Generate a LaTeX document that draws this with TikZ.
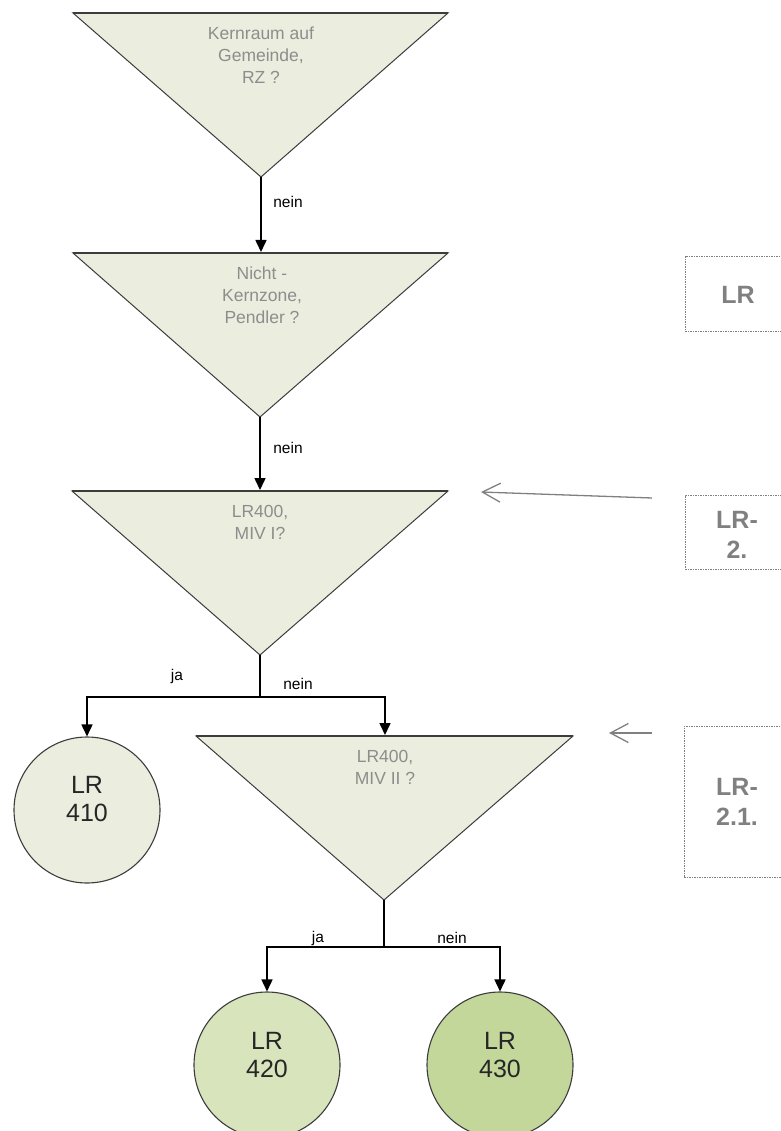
\documentclass[tikz,border=0pt]{standalone}
\usepackage{fontspec}
\setmainfont{Liberation Sans}
\usetikzlibrary{arrows.meta}
\definecolor{trifill}{RGB}{235,238,222}
\definecolor{ctwo}{RGB}{216,228,188}
\definecolor{cthree}{RGB}{196,215,155}
\definecolor{edgec}{RGB}{60,60,60}
\definecolor{tgrey}{RGB}{128,128,128}
\begin{document}
\begin{tikzpicture}[x=1pt,y=-1pt,
  tri/.style={fill=trifill,draw=edgec,line width=1pt,line join=miter},
  tritop/.style={draw=edgec,line width=2.2pt},
  qtext/.style={text=tgrey!90,font=\fontsize{17.5}{22}\selectfont,align=center,inner sep=0pt},
  endc/.style={circle,draw=edgec,line width=1.1pt,minimum size=146pt,inner sep=0pt},
  ctext/.style={text=black!85,font=\fontsize{25}{28}\selectfont,align=center,inner sep=0pt},
  arr/.style={-{Triangle[length=12pt,width=11pt]},line width=1.6pt,black},
  lab/.style={font=\fontsize{15.5}{18}\selectfont,inner sep=0pt,text=black},
  rbox/.style={draw=tgrey,line width=0.8pt,dash pattern=on 1.5pt off 1pt,inner sep=0pt},
  btext/.style={text=tgrey,font=\bfseries\fontsize{25}{30}\selectfont,align=center,inner sep=0pt},
  garr/.style={-{Straight Barb[length=18pt,width=19pt]},draw=tgrey,line width=1.3pt}]
\useasboundingbox (0,0) rectangle (780,1131);

% triangle 1
\path[tri] (73,13) -- (448,13) -- (261,177) -- cycle;
\draw[tritop] (73,13) -- (448,13);
\coordinate (t1apex) at (261,177);
\node[qtext] (q1) at (261,55) {Kernraum auf\\Gemeinde,\\RZ ?};

% triangle 2
\path[tri] (73,253) -- (448,253) -- (260,417) -- cycle;
\draw[tritop] (73,253) -- (448,253);
\coordinate (t2top) at (261,252);
\coordinate (t2apex) at (260,417);
\node[qtext] (q2) at (262,295) {Nicht -\\Kernzone,\\Pendler ?};

% triangle 3
\path[tri] (72,491) -- (448,491) -- (260,655) -- cycle;
\draw[tritop] (72,491) -- (448,491);
\coordinate (t3top) at (260,490);
\coordinate (t3apex) at (260,655);
\node[qtext] (q3) at (260,522) {LR400,\\MIV I?};

% triangle 4
\path[tri] (196,736) -- (573,736) -- (384,900) -- cycle;
\draw[tritop] (196,736) -- (573,736);
\coordinate (t4top) at (385,735);
\coordinate (t4apex) at (384,900);
\node[qtext] (q4) at (385,767) {LR400,\\MIV II ?};

% end circles
\node[endc,fill=trifill] (c410) at (87,810) {};
\node[ctext] (l410) at (87,799) {LR\\410};
\node[endc,fill=ctwo] (c420) at (267,1065) {};
\node[ctext] (l420) at (267,1055) {LR\\420};
\node[endc,fill=cthree] (c430) at (500,1065) {};
\node[ctext] (l430) at (500,1055) {LR\\430};

% connectors
\draw[arr] (t1apex) -- (t2top);
\node[lab] at (288,202) {nein};
\draw[arr] (t2apex) -- (t3top);
\node[lab] at (288,448) {nein};

\coordinate (j3) at (260,697);
\draw[arr] (t3apex) -- (j3) -| (c410.north);
\draw[arr] (j3) -| (t4top);
\node[lab] at (177,676) {ja};
\node[lab] at (298,684) {nein};

\coordinate (j4) at (384,947);
\draw[arr] (t4apex) -- (j4) -| (c420.north);
\draw[arr] (j4) -| (c430.north);
\node[lab] at (318,938) {ja};
\node[lab] at (452,938) {nein};

% right boxes (right edges lie outside the picture)
\node[rbox,minimum width=120pt,minimum height=75pt] (b1) at (745,293.5) {};
\node[btext] (tb1) at (738,295) {LR};
\node[rbox,minimum width=120pt,minimum height=74pt] (b2) at (745,532) {};
\node[btext] (tb2) at (737,534.5) {LR-\\2.};
\node[rbox,minimum width=120pt,minimum height=151pt] (b3) at (744,801.5) {};
\node[btext] (tb3) at (737,802) {LR-\\2.1.};

% grey arrows
\coordinate (g1s) at (652,498);
\coordinate (g1e) at (481,492);
\draw[garr] (g1s) -- (g1e);
\coordinate (g2s) at (652,733);
\coordinate (g2e) at (609,733);
\draw[garr] (g2s) -- (g2e);
\end{tikzpicture}
\end{document}
